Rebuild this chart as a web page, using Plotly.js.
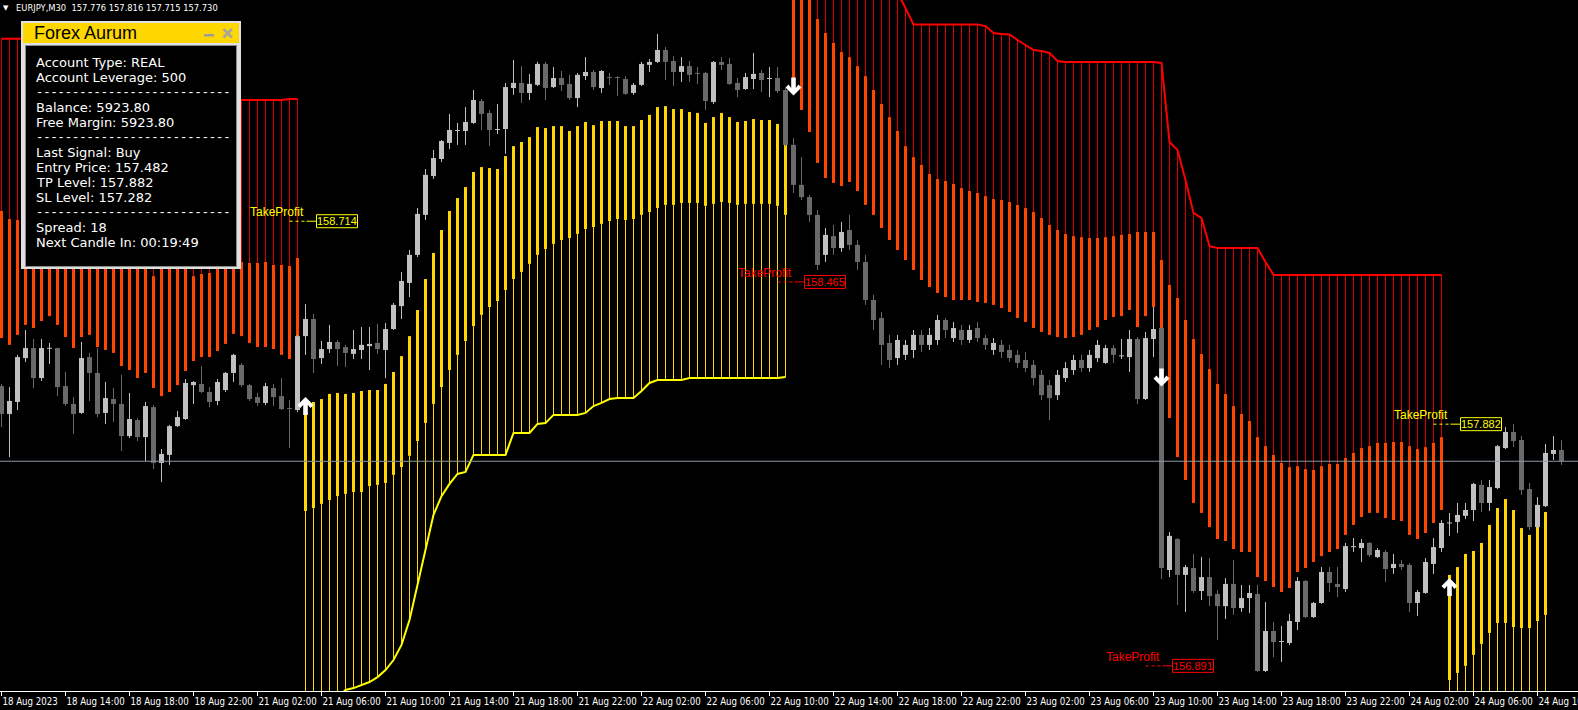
<!DOCTYPE html>
<html><head><meta charset="utf-8">
<script src="https://cdn.plot.ly/plotly-3.0.1.min.js"></script>
<style>html,body{margin:0;padding:0;background:#000;overflow:hidden}#chart{width:1578px;height:710px}</style>
</head><body><div id="chart"></div>
<script>
// ---------------- DATA ----------------
const symbolInfo = 'EURJPY,M30';
const lastBarQuote = [157.776, 157.816, 157.715, 157.730]; // O H L C of the current bar
const bidPrice = 157.730;

const tickBars = [0,8,16,24,32,40,48,56,64,72,80,88,96,104,112,120,128,136,144,152,160,168,176,184,192];
const tickLabels = ['18 Aug 2023','18 Aug 14:00','18 Aug 18:00','18 Aug 22:00','21 Aug 02:00','21 Aug 06:00',
  '21 Aug 10:00','21 Aug 14:00','21 Aug 18:00','21 Aug 22:00','22 Aug 02:00','22 Aug 06:00','22 Aug 10:00',
  '22 Aug 14:00','22 Aug 18:00','22 Aug 22:00','23 Aug 02:00','23 Aug 06:00','23 Aug 10:00','23 Aug 14:00',
  '23 Aug 18:00','23 Aug 22:00','24 Aug 02:00','24 Aug 06:00','24 Aug 10:00'];

const candleOpen = [
158.038,157.924,157.973,158.153,158.194,158.071,158.192,158.194,158.038,157.965,
157.928,158.157,158.092,157.928,157.985,157.965,157.833,157.899,157.829,157.952,
157.723,157.756,157.874,157.903,158.042,158.047,158.014,157.977,158.022,158.092,
158.125,158.042,157.993,157.969,158.030,157.997,157.948,157.940,158.243,158.313,
158.153,158.190,158.219,158.198,158.170,158.186,158.202,158.215,158.186,158.272,
158.366,158.461,158.576,158.740,158.899,158.969,159.035,159.084,159.084,159.117,
159.207,159.158,159.088,159.092,159.260,159.281,159.240,159.273,159.359,159.264,
159.301,159.277,159.219,159.309,159.326,159.260,159.305,159.305,159.297,159.240,
159.273,159.355,159.367,159.416,159.371,159.326,159.350,159.322,159.322,159.203,
159.367,159.359,159.281,159.256,159.297,159.322,159.297,159.301,159.252,159.027,
158.863,158.813,158.740,158.576,158.653,158.604,158.678,158.617,158.547,158.391,
158.317,158.215,158.153,158.166,158.186,158.248,158.207,158.227,158.309,158.235,
158.268,158.227,158.276,158.235,158.186,158.207,158.186,158.166,158.145,158.125,
158.084,158.042,158.001,158.071,158.104,158.145,158.112,158.153,158.133,158.194,
158.161,158.157,158.231,157.985,158.231,158.276,157.284,157.411,157.264,157.292,
157.198,157.255,157.186,157.136,157.227,157.128,157.169,157.186,156.870,157.034,
156.989,156.985,157.071,157.239,157.091,157.149,157.276,157.227,157.206,157.378,
157.374,157.395,157.337,157.358,157.292,157.309,157.305,157.149,157.190,157.309,
157.374,157.475,157.481,157.506,157.530,157.633,157.559,157.620,157.784,157.850,
157.817,157.616,157.460,157.546,157.760,157.776];

const candleHigh = [
158.047,158.034,158.166,158.268,158.231,158.231,158.215,158.196,158.096,157.993,
158.219,158.174,158.194,158.055,158.030,158.084,158.010,157.907,157.973,157.960,
157.780,157.879,157.936,158.067,158.059,158.120,158.034,158.067,158.096,158.170,
158.133,158.047,158.010,158.051,158.047,158.071,157.981,158.248,158.375,158.334,
158.223,158.289,158.227,158.207,158.268,158.280,158.280,158.293,158.297,158.379,
158.506,158.596,158.768,158.928,159.006,159.047,159.154,159.117,159.182,159.252,
159.215,159.170,159.195,159.281,159.375,159.350,159.318,159.367,159.367,159.346,
159.330,159.314,159.322,159.387,159.334,159.334,159.322,159.309,159.309,159.281,
159.367,159.379,159.482,159.428,159.391,159.387,159.371,159.346,159.326,159.371,
159.387,159.383,159.301,159.322,159.404,159.334,159.346,159.346,159.260,159.055,
158.977,158.822,158.760,158.686,158.699,158.711,158.740,158.637,158.576,158.412,
158.342,158.248,158.248,158.227,158.268,158.268,158.276,158.330,158.317,158.301,
158.289,158.289,158.301,158.248,158.235,158.227,158.207,158.186,158.178,158.145,
158.104,158.063,158.104,158.137,158.166,158.166,158.186,158.227,158.207,158.207,
158.231,158.268,158.239,158.260,158.362,158.280,157.440,157.415,157.305,157.350,
157.338,157.333,157.202,157.251,157.325,157.223,157.223,157.223,157.153,157.071,
157.055,157.104,157.255,157.243,157.153,157.296,157.296,157.296,157.395,157.415,
157.411,157.399,157.374,157.366,157.350,157.325,157.313,157.202,157.333,157.415,
157.489,157.518,157.559,157.559,157.641,157.653,157.653,157.797,157.870,157.883,
157.833,157.641,157.583,157.801,157.833,157.816];

const candleLow = [
157.870,157.747,157.940,158.137,158.030,158.059,158.129,157.997,157.956,157.842,
157.924,157.977,157.911,157.883,157.891,157.772,157.825,157.813,157.731,157.698,
157.645,157.715,157.870,157.899,157.965,158.010,157.952,157.960,158.014,158.055,
158.034,157.977,157.956,157.960,157.956,157.940,157.784,157.932,158.166,158.092,
158.129,158.174,158.120,158.116,158.149,158.149,158.104,158.170,158.071,158.268,
158.313,158.403,158.567,158.719,158.887,158.957,159.010,159.027,159.027,159.113,
159.088,159.022,159.072,158.990,159.232,159.199,159.211,159.268,159.211,159.260,
159.248,159.211,159.182,159.293,159.252,159.240,159.273,159.227,159.232,159.232,
159.268,159.326,159.363,159.293,159.268,159.285,159.285,159.277,159.170,159.195,
159.334,159.273,159.223,159.252,159.256,159.244,159.223,159.240,159.022,158.830,
158.801,158.711,158.514,158.547,158.576,158.588,158.596,158.514,158.371,158.268,
158.125,158.112,158.125,158.145,158.153,158.178,158.186,158.207,158.235,158.219,
158.207,158.215,158.219,158.186,158.166,158.153,158.137,158.112,158.096,158.042,
157.981,157.899,157.981,158.055,158.084,158.096,158.096,158.137,158.129,158.133,
158.149,158.096,157.965,157.981,158.157,157.247,157.255,157.141,157.112,157.190,
157.161,157.136,156.997,157.083,157.100,157.112,157.108,156.866,156.866,156.927,
156.907,156.976,157.038,157.087,157.087,157.145,157.194,157.173,157.194,157.358,
157.317,157.337,157.333,157.235,157.268,157.284,157.112,157.095,157.186,157.268,
157.358,157.423,157.436,157.493,157.485,157.522,157.526,157.616,157.780,157.788,
157.592,157.448,157.456,157.542,157.735,157.715];

const candleClose = [
157.924,157.977,158.157,158.194,158.071,158.194,158.194,158.034,157.965,157.924,
158.153,158.092,157.924,157.989,157.965,157.833,157.903,157.829,157.956,157.723,
157.760,157.874,157.911,158.051,158.055,158.014,157.973,158.055,158.092,158.166,
158.042,157.985,157.969,158.038,157.993,157.944,157.944,158.243,158.313,158.149,
158.190,158.219,158.190,158.174,158.190,158.207,158.211,158.190,158.272,158.371,
158.469,158.576,158.744,158.904,158.973,159.043,159.088,159.088,159.121,159.211,
159.154,159.088,159.092,159.264,159.281,159.240,159.277,159.359,159.260,159.301,
159.273,159.219,159.314,159.326,159.264,159.330,159.301,159.301,159.236,159.273,
159.359,159.367,159.416,159.367,159.326,159.350,159.314,159.318,159.207,159.367,
159.355,159.277,159.252,159.305,159.318,159.293,159.301,159.248,159.027,158.863,
158.813,158.740,158.535,158.658,158.604,158.670,158.617,158.547,158.391,158.309,
158.207,158.145,158.227,158.207,158.248,158.207,158.248,158.309,158.268,158.276,
158.227,158.268,158.235,158.207,158.215,158.178,158.153,158.133,158.112,158.071,
158.001,157.989,158.084,158.112,158.145,158.112,158.166,158.207,158.194,158.166,
158.163,158.231,157.985,158.235,158.272,157.292,157.424,157.264,157.296,157.198,
157.255,157.177,157.136,157.227,157.128,157.169,157.190,156.870,157.034,156.989,
156.993,157.075,157.239,157.091,157.149,157.276,157.231,157.214,157.382,157.382,
157.395,157.345,157.366,157.288,157.309,157.296,157.149,157.194,157.317,157.378,
157.477,157.479,157.510,157.530,157.637,157.559,157.624,157.792,157.850,157.813,
157.612,157.460,157.551,157.764,157.776,157.730];

// Trend indicator: stop level, band upper and lower edge per bar
const stopLevel = [
159.462,159.462,159.462,159.462,159.462,159.462,159.462,159.462,159.462,159.211,
159.211,159.211,159.211,159.211,159.211,159.211,159.211,159.211,159.211,159.211,
159.211,159.211,159.211,159.211,159.211,159.211,159.211,159.211,159.211,159.211,
159.211,159.211,159.211,159.211,159.211,159.211,159.215,159.215,156.700,156.710,
156.720,156.730,156.760,156.792,156.800,156.813,156.825,156.845,156.874,156.915,
156.977,157.079,157.222,157.366,157.510,157.587,157.637,157.678,157.686,157.756,
157.756,157.756,157.756,157.756,157.846,157.846,157.846,157.883,157.887,157.920,
157.920,157.920,157.920,157.928,157.956,157.969,157.985,157.989,157.989,157.989,
158.018,158.051,158.063,158.063,158.063,158.063,158.071,158.071,158.071,158.071,
158.071,158.071,158.071,158.071,158.071,158.071,158.071,158.071,158.075,159.750,
159.750,159.750,159.750,159.750,159.750,159.750,159.750,159.750,159.750,159.750,
159.750,159.750,159.654,159.588,159.521,159.521,159.521,159.521,159.521,159.521,
159.521,159.521,159.521,159.514,159.486,159.482,159.480,159.457,159.437,159.416,
159.412,159.404,159.371,159.367,159.367,159.367,159.367,159.367,159.367,159.367,
159.367,159.367,159.367,159.367,159.367,159.363,159.039,159.006,158.883,158.748,
158.727,158.612,158.604,158.604,158.604,158.604,158.604,158.604,158.547,158.494,
158.494,158.494,158.494,158.494,158.494,158.494,158.494,158.494,158.494,158.494,
158.494,158.494,158.494,158.494,158.494,158.494,158.494,158.494,158.494,158.494,
158.494,156.600,156.600,156.600,156.600,156.600,156.600,156.600,156.600,156.600,
156.600,156.600,156.600,156.600,null,null];

const bandHigh = [
158.756,158.723,158.719,158.658,158.645,158.637,158.637,158.629,158.617,158.604,
158.596,158.588,158.576,158.563,158.555,158.547,158.543,158.539,158.535,158.489,
158.531,158.535,158.539,158.535,158.489,158.498,158.502,158.535,158.539,158.543,
158.547,158.543,158.543,158.547,158.535,158.535,158.531,158.563,157.956,157.973,
157.985,158.006,158.010,158.006,158.010,158.018,158.022,158.022,158.047,158.096,
158.161,158.243,158.350,158.477,158.584,158.678,158.756,158.809,158.854,158.916,
158.936,158.932,158.928,158.981,159.022,159.039,159.059,159.100,159.096,159.104,
159.104,159.084,159.104,159.121,159.108,159.125,159.125,159.125,159.104,159.104,
159.129,159.150,159.182,159.186,159.174,159.174,159.162,159.158,159.117,159.141,
159.158,159.141,159.121,159.125,159.133,159.129,159.129,159.113,159.047,159.700,
159.700,159.680,159.543,159.486,159.445,159.408,159.387,159.350,159.309,159.252,
159.195,159.141,159.084,159.022,158.977,158.945,158.908,158.887,158.879,158.867,
158.850,158.838,158.830,158.817,158.805,158.801,158.793,158.781,158.768,158.752,
158.727,158.699,158.678,158.662,158.653,158.649,158.645,158.645,158.649,158.653,
158.658,158.662,158.670,158.670,158.670,158.555,158.453,158.399,158.309,158.231,
158.170,158.108,158.047,158.006,157.956,157.924,157.895,157.829,157.792,157.756,
157.723,157.706,157.710,157.698,157.694,157.710,157.719,157.719,157.743,157.764,
157.784,157.792,157.805,157.805,157.809,157.809,157.792,157.780,157.788,157.805,
157.829,157.264,157.296,157.350,157.362,157.395,157.469,157.538,157.575,157.530,
157.456,157.428,157.481,157.522,null,null];

const bandLow = [
158.235,158.207,158.248,158.289,158.276,158.305,158.325,158.289,158.239,158.194,
158.239,158.248,158.198,158.186,158.174,158.120,158.104,158.071,158.092,158.030,
157.997,158.014,158.042,158.100,158.141,158.157,158.157,158.182,158.211,158.252,
158.243,158.215,158.198,158.198,158.190,158.166,158.149,158.243,157.526,157.538,
157.555,157.571,157.587,157.596,157.604,157.604,157.628,157.633,157.641,157.674,
157.706,157.752,157.813,157.887,157.965,158.034,158.104,158.166,158.223,158.284,
158.330,158.362,158.387,158.432,158.477,158.506,158.539,158.576,158.600,158.621,
158.637,158.645,158.662,158.682,158.690,158.703,158.715,158.723,158.719,158.723,
158.740,158.752,158.768,158.781,158.781,158.789,158.789,158.789,158.777,158.785,
158.793,158.789,158.781,158.785,158.785,158.785,158.785,158.777,158.740,159.252,
159.170,159.080,158.953,158.891,158.871,158.858,158.875,158.838,158.781,158.740,
158.686,158.637,158.596,158.555,158.514,158.473,158.444,158.420,158.403,158.391,
158.391,158.391,158.383,158.379,158.371,158.358,158.342,158.317,158.301,158.276,
158.260,158.248,158.239,158.235,158.239,158.248,158.268,158.280,158.309,158.321,
158.325,158.350,158.280,158.325,158.362,158.104,157.907,157.747,157.653,157.559,
157.518,157.460,157.411,157.403,157.370,157.358,157.358,157.255,157.239,157.214,
157.194,157.210,157.276,157.292,157.317,157.341,157.358,157.370,157.428,157.469,
157.501,157.518,157.518,157.497,157.489,157.485,157.428,157.411,157.436,157.477,
157.530,156.833,156.862,156.891,156.936,156.981,157.026,157.067,157.067,157.050,
157.046,157.046,157.075,157.100,null,null];

// trend phases: first bar, last bar, direction (+1 buy, -1 sell)
const phaseFirst = [0, 38, 99, 181];
const phaseLast  = [37, 98, 180, 193];
const phaseDir   = [-1, 1, -1, 1];

// signals (arrows) and their take-profit levels
const signalBar   = [38, 99, 145, 181];
const signalDir   = [1, -1, -1, 1];
const signalPrice = [157.956, 159.266, 158.073, 157.214];
const tpPrice     = [158.714, 158.465, 156.891, 157.882];

const panelTitle = 'Forex Aurum';
const panelLines = ['Account Type: REAL','Account Leverage: 500','-','Balance: 5923.80','Free Margin: 5923.80','-',
  'Last Signal: Buy','Entry Price: 157.482','TP Level: 157.882','SL Level: 157.282','-','Spread: 18','Next Candle In: 00:19:49'];

// ---------------- STYLE ----------------
const W = 1578, H = 710, PLOT_H = 691;
const Y_RANGE = [156.788, 159.621];
const X_RANGE = [-0.1875, 197.0625];
const NARROW = '"DejaVu Sans Condensed", "Liberation Sans Narrow", sans-serif';
const ARIAL = '"Liberation Sans", Arial, sans-serif';
const COL = {bull:'#c0c0c0', bear:'#696969', sellBand:'#ff4500', sellThin:'#e00000', sellStop:'#ff0000',
  buyBand:'#ffd700', buyThin:'#ffd700', buyStop:'#ffff00', tpBuy:'#ffff00', tpSell:'#ff0000', bid:'#8e98a4'};
const pricePerPx = (Y_RANGE[1]-Y_RANGE[0]) / PLOT_H;
// arrow glyph outline in pixels (tip up), mirrored for sell signals
const ARROW_UP = [[0,9],[8,1],[5,-2],[2.3,1.3],[2.3,-9],[-2.3,-9],[-2.3,1.3],[-5,-2],[-8,1]];

// ---------------- BUILD ----------------
const N = candleOpen.length;
const thinSell = {x:[],y:[]}, thinBuy = {x:[],y:[]};
const bandS = {x:[],base:[],h:[]}, bandB = {x:[],base:[],h:[]};
const stopS = {x:[],y:[]}, stopB = {x:[],y:[]};
for (let p = 0; p < phaseFirst.length; p++) {
  const d = phaseDir[p];
  for (let i = phaseFirst[p]; i <= phaseLast[p]; i++) {
    const s = stopLevel[i], hi = bandHigh[i], lo = bandLow[i];
    if (s === null || hi === null) continue;
    if (d < 0) {
      thinSell.x.push(i, i, null); thinSell.y.push(s, hi, null);
      bandS.x.push(i); bandS.base.push(lo); bandS.h.push(hi - lo);
      stopS.x.push(i); stopS.y.push(s);
    } else {
      thinBuy.x.push(i, i, null); thinBuy.y.push(s, lo, null);
      bandB.x.push(i); bandB.base.push(lo); bandB.h.push(hi - lo);
      stopB.x.push(i); stopB.y.push(s);
    }
  }
  const t = d < 0 ? stopS : stopB; t.x.push(null); t.y.push(null);
}
const wick = {up:{x:[],y:[]}, dn:{x:[],y:[]}};
const body = {up:{x:[],base:[],h:[]}, dn:{x:[],base:[],h:[]}};
for (let i = 0; i < N; i++) {
  const o = candleOpen[i], c = candleClose[i];
  const k = c >= o ? 'up' : 'dn';
  wick[k].x.push(i, i, null); wick[k].y.push(candleHigh[i], candleLow[i], null);
  let top = Math.max(o, c), bot = Math.min(o, c);
  if (top - bot < pricePerPx) { const m = (top + bot) / 2; top = m + pricePerPx / 2; bot = m - pricePerPx / 2; }
  body[k].x.push(i); body[k].base.push(bot); body[k].h.push(top - bot);
}
const lineTrace = (d, color, width) => ({type:'scatter', mode:'lines', x:d.x, y:d.y, line:{color, width}, hoverinfo:'skip', connectgaps:false});
const barTrace = (d, color, w) => ({type:'bar', x:d.x, base:d.base, y:d.h, width:w, marker:{color, line:{width:0}}, hoverinfo:'skip'});
const traces = [
  lineTrace(thinSell, COL.sellThin, 1),
  lineTrace(thinBuy, COL.buyThin, 1),
  barTrace(bandS, COL.sellBand, 0.375),
  barTrace(bandB, COL.buyBand, 0.375),
  lineTrace(stopS, COL.sellStop, 2),
  lineTrace(stopB, COL.buyStop, 2),
  lineTrace(wick.dn, COL.bear, 1),
  lineTrace(wick.up, COL.bull, 1),
  barTrace(body.dn, COL.bear, 0.625),
  barTrace(body.up, COL.bull, 0.625)
];

const PX = px => px / W;
const PY = py => 1 - py / PLOT_H;
const shapes = [], annotations = [];

// bid line
shapes.push({type:'line', xref:'paper', yref:'y', x0:0, x1:1, y0:bidPrice, y1:bidPrice, line:{color:COL.bid, width:1}});

// signal arrows and take profit labels
signalBar.forEach((b, k) => {
  const col = signalDir[k] > 0 ? COL.tpBuy : COL.tpSell;
  const tp = tpPrice[k];
  const path = 'M' + ARROW_UP.map(([ax, ay]) => ax + ',' + (ay * signalDir[k])).join('L') + 'Z';
  shapes.push({type:'path', xref:'x', yref:'y', xsizemode:'pixel', ysizemode:'pixel', xanchor:b, yanchor:signalPrice[k],
    path, fillcolor:'#ffffff', line:{width:0}});
  shapes.push({type:'line', xref:'x', yref:'y', xsizemode:'pixel', xanchor:b, x0:-16, x1:1, y0:tp, y1:tp, line:{color:col, width:1, dash:'3px,3px'}});
  shapes.push({type:'line', xref:'x', yref:'y', xsizemode:'pixel', xanchor:b, x0:1, x1:11, y0:tp, y1:tp, line:{color:col, width:1}});
  shapes.push({type:'rect', xref:'x', yref:'y', xsizemode:'pixel', xanchor:b, x0:11, x1:52, ysizemode:'pixel', yanchor:tp, y0:-6.5, y1:6.5, line:{color:col, width:1}, fillcolor:'#000'});
  annotations.push({xref:'x', yref:'y', x:b, y:tp, xanchor:'right', yanchor:'bottom', showarrow:false, text:'TakeProfit', font:{family:ARIAL, size:12, color:col}});
  annotations.push({xref:'x', yref:'y', x:b, y:tp, xanchor:'center', yanchor:'middle', xshift:31.5, showarrow:false, text:tp.toFixed(3), font:{family:ARIAL, size:11, color:col}});
});

// header
annotations.push({xref:'paper', yref:'paper', x:PX(6), y:PY(7.5), xanchor:'center', yanchor:'middle', showarrow:false, text:'\u25BC', font:{family:'DejaVu Sans', size:7, color:'#fff'}});
annotations.push({xref:'paper', yref:'paper', x:PX(14), y:PY(7.5), xanchor:'left', yanchor:'middle', showarrow:false,
  text: symbolInfo + '\u00a0\u00a0' + lastBarQuote.map(v => v.toFixed(3)).join(' '), font:{family:NARROW, size:9.3, color:'#fff'}});

// info panel
const rect = (x0, y0, x1, y1, fill) => ({type:'rect', xref:'paper', yref:'paper', x0:PX(x0), x1:PX(x1), y0:PY(y1), y1:PY(y0), fillcolor:fill, line:{width:0}});
shapes.push(rect(21, 21, 241, 269, '#e0e0e0'));
shapes.push(rect(23, 23, 239, 43, '#ffd700'));
shapes.push(rect(25, 45, 237, 267, '#8a8a8a'));
shapes.push(rect(26, 46, 236, 266, '#000000'));
shapes.push(rect(204, 34, 214, 36.5, '#9c9c9c'));
shapes.push({type:'line', xref:'paper', yref:'paper', x0:PX(223.5), x1:PX(232), y0:PY(29), y1:PY(37.5), line:{color:'#a4a4a4', width:2.5}});
shapes.push({type:'line', xref:'paper', yref:'paper', x0:PX(223.5), x1:PX(232), y0:PY(37.5), y1:PY(29), line:{color:'#a4a4a4', width:2.5}});
annotations.push({xref:'paper', yref:'paper', x:PX(32), y:PY(33), xanchor:'left', yanchor:'middle', showarrow:false, text:panelTitle, font:{family:ARIAL, size:18, color:'#000'}});
panelLines.forEach((t, k) => {
  const isSep = t === '-';
  annotations.push({xref:'paper', yref:'paper', x:PX(33.5), y:PY(62.5 + 15 * k), xanchor:'left', yanchor:'middle', showarrow:false,
    text: isSep ? '-'.repeat(27) : t,
    font: isSep ? {family:'"Liberation Mono", monospace', size:12, color:'#fff'} : {family:'"DejaVu Sans", sans-serif', size:13, color:'#fff'}});
});

const layout = {
  width: W, height: H,
  margin: {l:0, r:0, t:0, b:H - PLOT_H, pad:0},
  paper_bgcolor:'#000', plot_bgcolor:'#000',
  showlegend:false, barmode:'overlay',
  xaxis:{range:X_RANGE, tickmode:'array', tickvals:tickBars, ticktext:tickLabels, showgrid:false, zeroline:false,
    showline:true, linecolor:'#fff', linewidth:1, ticks:'outside', ticklen:4, tickwidth:1, tickcolor:'#fff',
    tickangle:0, ticklabelposition:'outside right', ticklabeloverflow:'allow', ticklabelstandoff:1,
    tickfont:{family:NARROW, size:9.6, color:'#fff'}, fixedrange:true},
  yaxis:{range:Y_RANGE, visible:false, fixedrange:true},
  shapes, annotations
};
Plotly.newPlot('chart', traces, layout, {staticPlot:true, displayModeBar:false});
</script></body></html>
